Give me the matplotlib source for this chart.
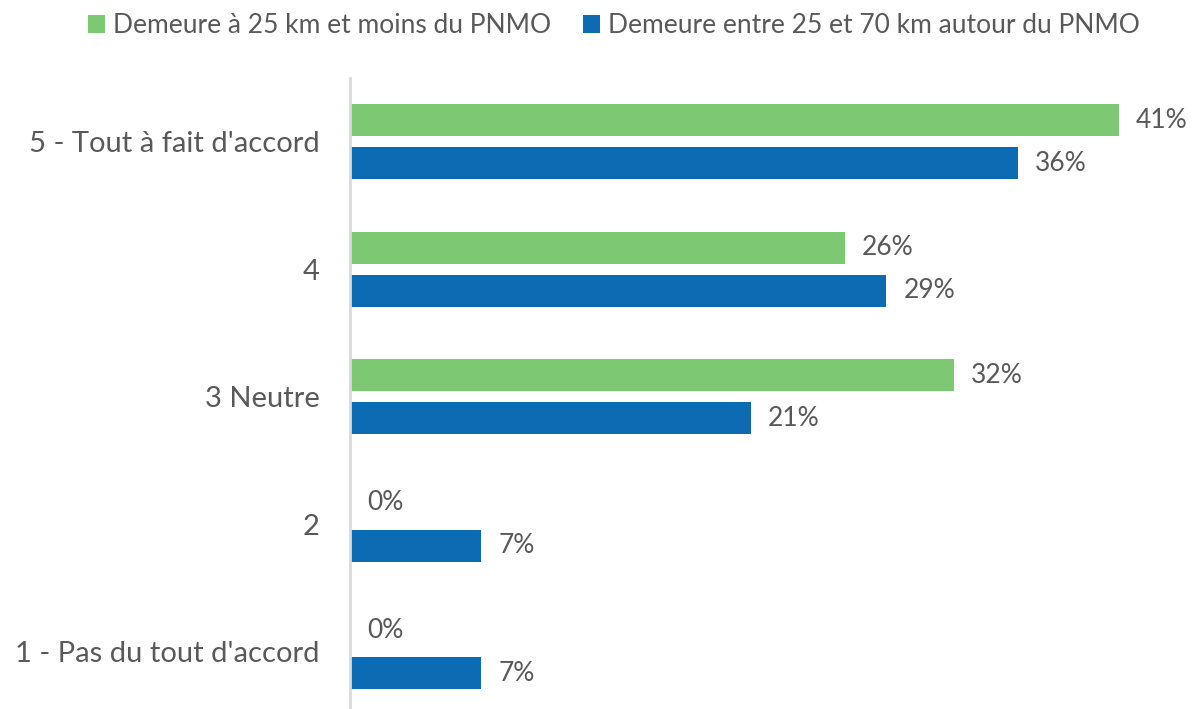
import matplotlib
matplotlib.use("Agg")
import matplotlib.pyplot as plt
import numpy as np

categories = ["5 - Tout à fait d'accord", "4", "3 Neutre", "2", "1 - Pas du tout d'accord"]
series_names = ["Demeure à 25 km et moins du PNMO", "Demeure entre 25 et 70 km autour du PNMO"]
near_values = [41.0, 26.4, 32.2, 0.0, 0.0]
far_values = [35.6, 28.6, 21.4, 7.0, 7.0]

green = "#7DC873"
blue = "#0D6BB3"
txt = "#595959"
plt.rcParams['font.family'] = ['Lato', 'DejaVu Sans']

fig = plt.figure(figsize=(12.04, 7.09), dpi=100)
W, H = 1204, 709
ax = fig.add_axes([350 / W, 0, 844 / W, (709 - 78) / H])

n = len(categories)
pos = np.arange(n)  # 0 at top
off = 21.5 / 127.5
bh = 32 / 127.5
ax.barh(pos - off, near_values, height=bh, color=green, label=series_names[0])
ax.barh(pos + off, far_values, height=bh, color=blue, label=series_names[1])

for p, v in zip(pos, near_values):
    ax.text(v + 0.9, p - off, f"{v:.0f}%", va="center", ha="left", fontsize=19, color=txt)
for p, v in zip(pos, far_values):
    ax.text(v + 0.9, p + off, f"{v:.0f}%", va="center", ha="left", fontsize=19, color=txt)

ax.set_xlim(0, 45)
ax.set_ylim(-0.5 + 631 / 127.5, -0.5)
ax.set_yticks(pos)
ax.set_yticklabels(categories, fontsize=21, color=txt)
ax.tick_params(axis="y", length=0, pad=22)
ax.set_xticks([])
for s in ["top", "right", "bottom"]:
    ax.spines[s].set_visible(False)
ax.spines["left"].set_color("#D9D9D9")
ax.spines["left"].set_linewidth(2)

leg = fig.legend(loc="upper center", bbox_to_anchor=(0.51, 1.015), ncol=2, frameon=False,
                 fontsize=19, handlelength=0.65, handleheight=0.65, handletextpad=0.3,
                 columnspacing=1.2)
for t in leg.get_texts():
    t.set_color(txt)

fig.savefig("out.png", dpi=100)
